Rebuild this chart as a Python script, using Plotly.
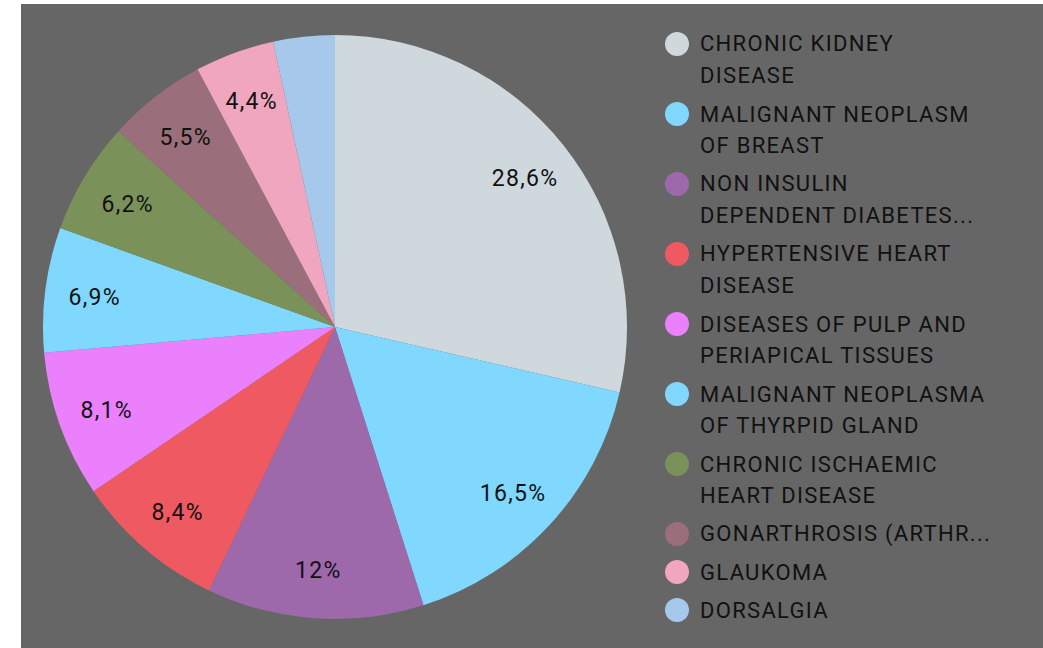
import math
import plotly.graph_objects as go

# ---- data ----
categories = [
    "CHRONIC KIDNEY<br>DISEASE",
    "MALIGNANT NEOPLASM<br>OF BREAST",
    "NON INSULIN<br>DEPENDENT DIABETES...",
    "HYPERTENSIVE HEART<br>DISEASE",
    "DISEASES OF PULP AND<br>PERIAPICAL TISSUES",
    "MALIGNANT NEOPLASMA<br>OF THYRPID GLAND",
    "CHRONIC ISCHAEMIC<br>HEART DISEASE",
    "GONARTHROSIS (ARTHR...",
    "GLAUKOMA",
    "DORSALGIA",
]
values = [28.6, 16.5, 12.0, 8.4, 8.1, 6.9, 6.2, 5.5, 4.4, 3.4]
value_labels = ["28,6%", "16,5%", "12%", "8,4%", "8,1%", "6,9%", "6,2%", "5,5%", "4,4%", ""]
colors = ["#cfd8dc", "#80d8ff", "#9e69ab", "#ef5a62", "#ea80fc",
          "#80d8ff", "#7b915a", "#9a6e7a", "#f0a6bf", "#a6c8ea"]

# ---- layout constants (pixels) ----
W, H = 1043, 648
BG = "#666666"
TXT = "#111111"
FONT = "Roboto"
cx, cy, R = 335, 327, 292


def px(x):
    return x / W


def py(y):
    return 1 - y / H


fig = go.Figure()
fig.add_trace(go.Pie(
    labels=[c.replace("<br>", " ") for c in categories],
    values=values,
    sort=False,
    direction="clockwise",
    rotation=0,
    marker=dict(colors=colors, line=dict(width=0)),
    textinfo="none",
    hoverinfo="label+percent",
    showlegend=False,
    domain=dict(x=[px(cx - R), px(cx + R)], y=[py(cy + R), py(cy - R)]),
))

annotations = []
shapes = [dict(type="rect", xref="paper", yref="paper", x0=px(21), x1=1, y0=0, y1=py(4),
               fillcolor=BG, line=dict(width=0), layer="below")]

# slice value labels, placed at mid-angle of each slice
total = sum(values)
cum = 0.0
for v, lab in zip(values, value_labels):
    mid = (cum + v / 2) / total * 2 * math.pi
    cum += v
    if not lab:
        continue
    rr = 0.83 * R
    x = cx + rr * math.sin(mid)
    y = cy - rr * math.cos(mid) + 2
    annotations.append(dict(x=px(x), y=py(y), xref="paper", yref="paper", text=lab,
                            showarrow=False, xanchor="center", yanchor="middle",
                            font=dict(family=FONT, size=23, color=TXT)))

# custom legend
ly = 44
for name, col in zip(categories, colors):
    lines = name.split("<br>")
    shapes.append(dict(type="circle", xref="paper", yref="paper",
                       x0=px(665), x1=px(689), y0=py(ly + 12), y1=py(ly - 12),
                       fillcolor=col, line=dict(width=0)))
    for i, ln in enumerate(lines):
        annotations.append(dict(x=px(698), y=py(ly + i * 31.3), xref="paper", yref="paper",
                                text=ln, showarrow=False, xanchor="left", yanchor="middle",
                                align="left",
                                font=dict(family=FONT, size=22, color=TXT)))
    ly += 70 if len(lines) == 2 else 38

fig.update_layout(
    width=W, height=H,
    margin=dict(l=0, r=0, t=0, b=0),
    paper_bgcolor="white",
    shapes=shapes,
    annotations=annotations,
    font=dict(family=FONT),
)

post = (
    "document.body.style.margin='0';"
    "var s=document.createElement('style');"
    "s.textContent='.annotation-text{letter-spacing:1.3px;}';"
    "document.head.appendChild(s);"
)
fig.write_html("out.html", post_script=post, config={"displayModeBar": False})
